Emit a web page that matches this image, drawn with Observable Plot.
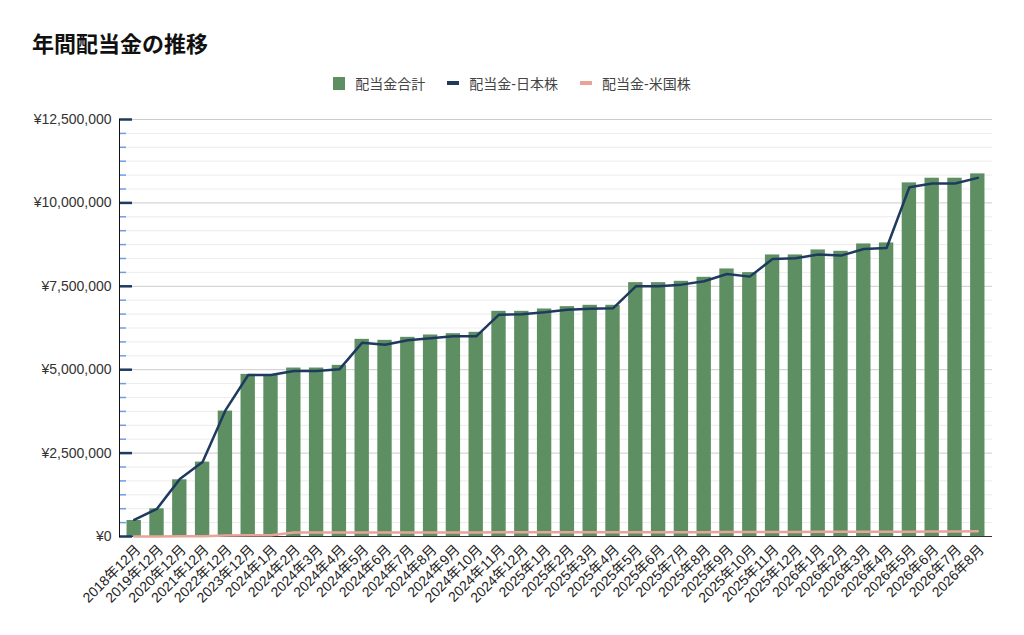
<!DOCTYPE html>
<html><head><meta charset="utf-8">
<script src="https://cdn.jsdelivr.net/npm/d3@7"></script>
<script src="https://cdn.jsdelivr.net/npm/@observablehq/plot@0.6"></script>
<style>
body{margin:0;background:#fff;font-family:"Liberation Sans",Arial,"Noto Sans CJK JP",sans-serif;}
#title{position:absolute;left:32px;top:27px;font-family:"Noto Sans CJK JP",sans-serif;font-weight:bold;font-size:22px;color:#111;line-height:30px;}
#legend{position:absolute;left:0;width:1024px;top:72px;height:22px;display:flex;justify-content:center;align-items:center;font-size:14px;color:#444;font-family:"Liberation Sans","Noto Sans CJK JP",sans-serif;}
.item{display:flex;align-items:center;margin:0 11px;}
.sw{margin-right:10px;}
#chart{position:absolute;left:0;top:100px;}
</style></head>
<body>
<div id="title">年間配当金の推移</div>
<div id="legend">
 <div class="item"><span class="sw" style="width:12px;height:13px;background:#5e8f63;display:inline-block"></span>配当金合計</div>
 <div class="item"><span class="sw" style="width:12px;height:4px;background:#1f3a5f;display:inline-block"></span>配当金-日本株</div>
 <div class="item"><span class="sw" style="width:12px;height:4px;background:#e6a598;display:inline-block"></span>配当金-米国株</div>
</div>
<div id="chart"></div>
<script>
const months = ["2018年12月","2019年12月","2020年12月","2021年12月","2022年12月","2023年12月",
"2024年1月","2024年2月","2024年3月","2024年4月","2024年5月","2024年6月","2024年7月","2024年8月","2024年9月","2024年10月","2024年11月","2024年12月",
"2025年1月","2025年2月","2025年3月","2025年4月","2025年5月","2025年6月","2025年7月","2025年8月","2025年9月","2025年10月","2025年11月","2025年12月",
"2026年1月","2026年2月","2026年3月","2026年4月","2026年5月","2026年6月","2026年7月","2026年8月"];
const total = [480000,830000,1700000,2230000,3760000,4860000,4840000,5050000,5050000,5130000,
5910000,5880000,5970000,6040000,6080000,6120000,6750000,6750000,6820000,6890000,
6930000,6930000,7610000,7610000,7650000,7770000,8020000,7910000,8440000,8440000,
8590000,8550000,8770000,8800000,10600000,10740000,10740000,10870000];
const japan = [500000,830000,1720000,2230000,3780000,4840000,4840000,4960000,4960000,5010000,
5810000,5750000,5880000,5940000,6000000,6000000,6650000,6660000,6720000,6800000,
6830000,6840000,7500000,7500000,7550000,7650000,7870000,7790000,8320000,8340000,
8450000,8420000,8620000,8650000,10470000,10580000,10580000,10750000];
const us = [0,0,5000,10000,30000,40000,40000,120000,120000,120000,
120000,120000,120000,120000,120000,120000,125000,125000,125000,125000,
125000,125000,130000,130000,130000,130000,135000,135000,135000,135000,
140000,140000,140000,145000,145000,150000,150000,155000];
const yTicks = [0,2500000,5000000,7500000,10000000,12500000];
const minorPerMajor = 6;

const data = months.map((m,i)=>({month:m,total:total[i],japan:japan[i],us:us[i]}));
const minor = [];
for (let k=0;k<yTicks.length-1;k++){
  const a=yTicks[k], b=yTicks[k+1];
  for (let j=1;j<minorPerMajor;j++) minor.push(a+(b-a)*j/minorPerMajor);
}
const fmt = d => "¥" + d3.format(",")(d);

const chart = Plot.plot({
  width:1024, height:535,
  marginLeft:119, marginRight:32, marginTop:19, marginBottom:99,
  style:{fontFamily:'"Liberation Sans",Arial,"Noto Sans CJK JP",sans-serif', background:"#fff"},
  x:{type:"band", domain:months, paddingInner:0.37, paddingOuter:0.33},
  y:{domain:[0,12500000]},
  marks:[
    Plot.ruleY(minor,{stroke:"#ececec"}),
    Plot.ruleY(yTicks.slice(1),{stroke:"#cccccc"}),
    Plot.barY(data,{x:"month",y:"total",fill:"#5e8f63"}),
    Plot.ruleY([0],{stroke:"#333"}),
    Plot.line(data,{x:"month",y:"us",stroke:"#e6a598",strokeWidth:2.5}),
    Plot.line(data,{x:"month",y:"japan",stroke:"#1f3a5f",strokeWidth:2.5}),
    Plot.axisY(minor,{tickSize:-7,stroke:"#6d9eeb",strokeWidth:1.5,text:null}),
    Plot.axisY(yTicks,{tickSize:-13,stroke:"#1f3a5f",strokeWidth:2.5,text:null}),
    Plot.axisY(yTicks,{tickSize:0,tickPadding:8,tickFormat:fmt,fontSize:14,fill:"#333",label:null}),
    Plot.frame({anchor:"left",stroke:"#111"}),
    Plot.axisX({tickSize:0,tickPadding:11,tickRotate:-45,fontSize:14,fill:"#222",label:null,dx:4})
  ]
});
document.getElementById("chart").appendChild(chart);
</script>
</body></html>
